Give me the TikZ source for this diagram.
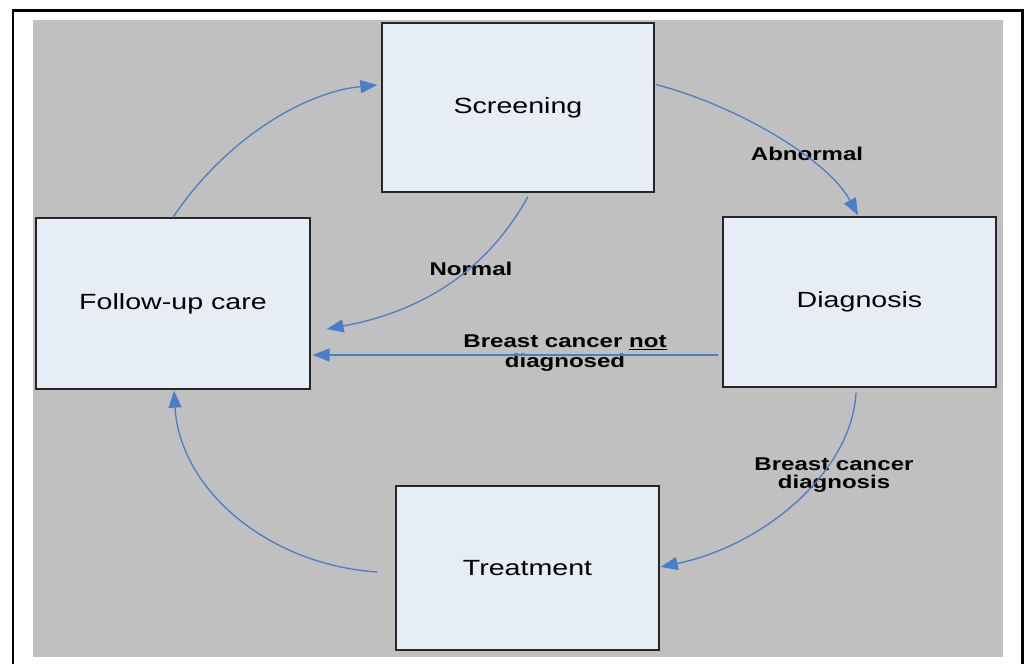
\documentclass[tikz,border=0pt]{standalone}
\usepackage{fontspec}
\setmainfont{Liberation Sans}[FakeStretch=1.3]
\usetikzlibrary{arrows.meta,calc}
\definecolor{bggray}{HTML}{C0C0C0}
\definecolor{boxfill}{HTML}{E7EDF7}
\definecolor{arrblue}{HTML}{4A7EC6}
\begin{document}
\begin{tikzpicture}[x=1pt,y=-1pt,
  stage/.style={draw=black!85, line width=1.3pt, fill=boxfill, inner sep=0pt,
    font=\fontsize{22}{26}\selectfont},
  arr/.style={draw=arrblue, line width=1.3pt, -{Triangle[length=17pt,width=13pt]}},
  lab/.style={font=\fontsize{18.5}{19.5}\selectfont\bfseries, align=center, inner sep=0pt}]
\useasboundingbox (0,0) rectangle (1029,664);
\fill[white] (0,0) rectangle (1029,664);
\draw[line width=2.5pt, black] (13,680) -- (13,10.5) -- (1022.5,10.5) -- (1022.5,680);
\fill[bggray] (33,20) rectangle (1003,657);
% boxes
\node[stage, minimum width=272pt, minimum height=169pt] (scr) at (518,107.5) {Screening};
\node[stage, minimum width=274pt, minimum height=171pt] (fu) at (173,303.5) {Follow-up care};
\node[stage, minimum width=273pt, minimum height=170pt] (dia) at (859.5,302) {Diagnosis};
\node[stage, minimum width=263pt, minimum height=164pt] (tr) at (527.5,568) {Treatment};
% labels
\node[lab] (l1) at (807,154) {Abnormal};
\node[lab] (l2) at (471,269) {Normal};
\node[lab] (l3) at (565,353) {Breast cancer \underline{not}\\diagnosed};
\node[lab, font=\fontsize{18.5}{18}\selectfont\bfseries] (l4) at (834,475) {Breast cancer\\diagnosis};
% connectors
\draw[arr] (fu.north) .. controls ($(fu.north)+(52,-78)$) and ($(scr.west)+(-77,-15.5)$) .. ($(scr.west)+(-4,-22.5)$);
\draw[arr] ($(scr.east)+(1,-23)$) .. controls ($(scr.east)+(81,-2.5)$) and ($(dia.north)+(-31.5,-57)$) .. ($(dia.north)+(-1.5,-1)$);
\draw[arr] ($(scr.south)+(10,4)$) .. controls ($(scr.south)+(-13,45)$) and ($(fu.east)+(145,2)$) .. ($(fu.east)+(16,25.5)$);
\draw[arr] ($(dia.west)+(-4,53)$) -- ($(fu.east)+(2,51.5)$);
\draw[arr] ($(dia.south)+(-3.5,5)$) .. controls ($(dia.south)+(-7.5,83)$) and ($(tr.east)+(106,-23)$) .. ($(tr.east)+(1,-1)$);
\draw[arr] ($(tr.west)+(-18,4)$) .. controls ($(tr.west)+(-126,-3)$) and ($(fu.south)+(7,101)$) .. ($(fu.south)+(1,1)$);
\end{tikzpicture}
\end{document}
